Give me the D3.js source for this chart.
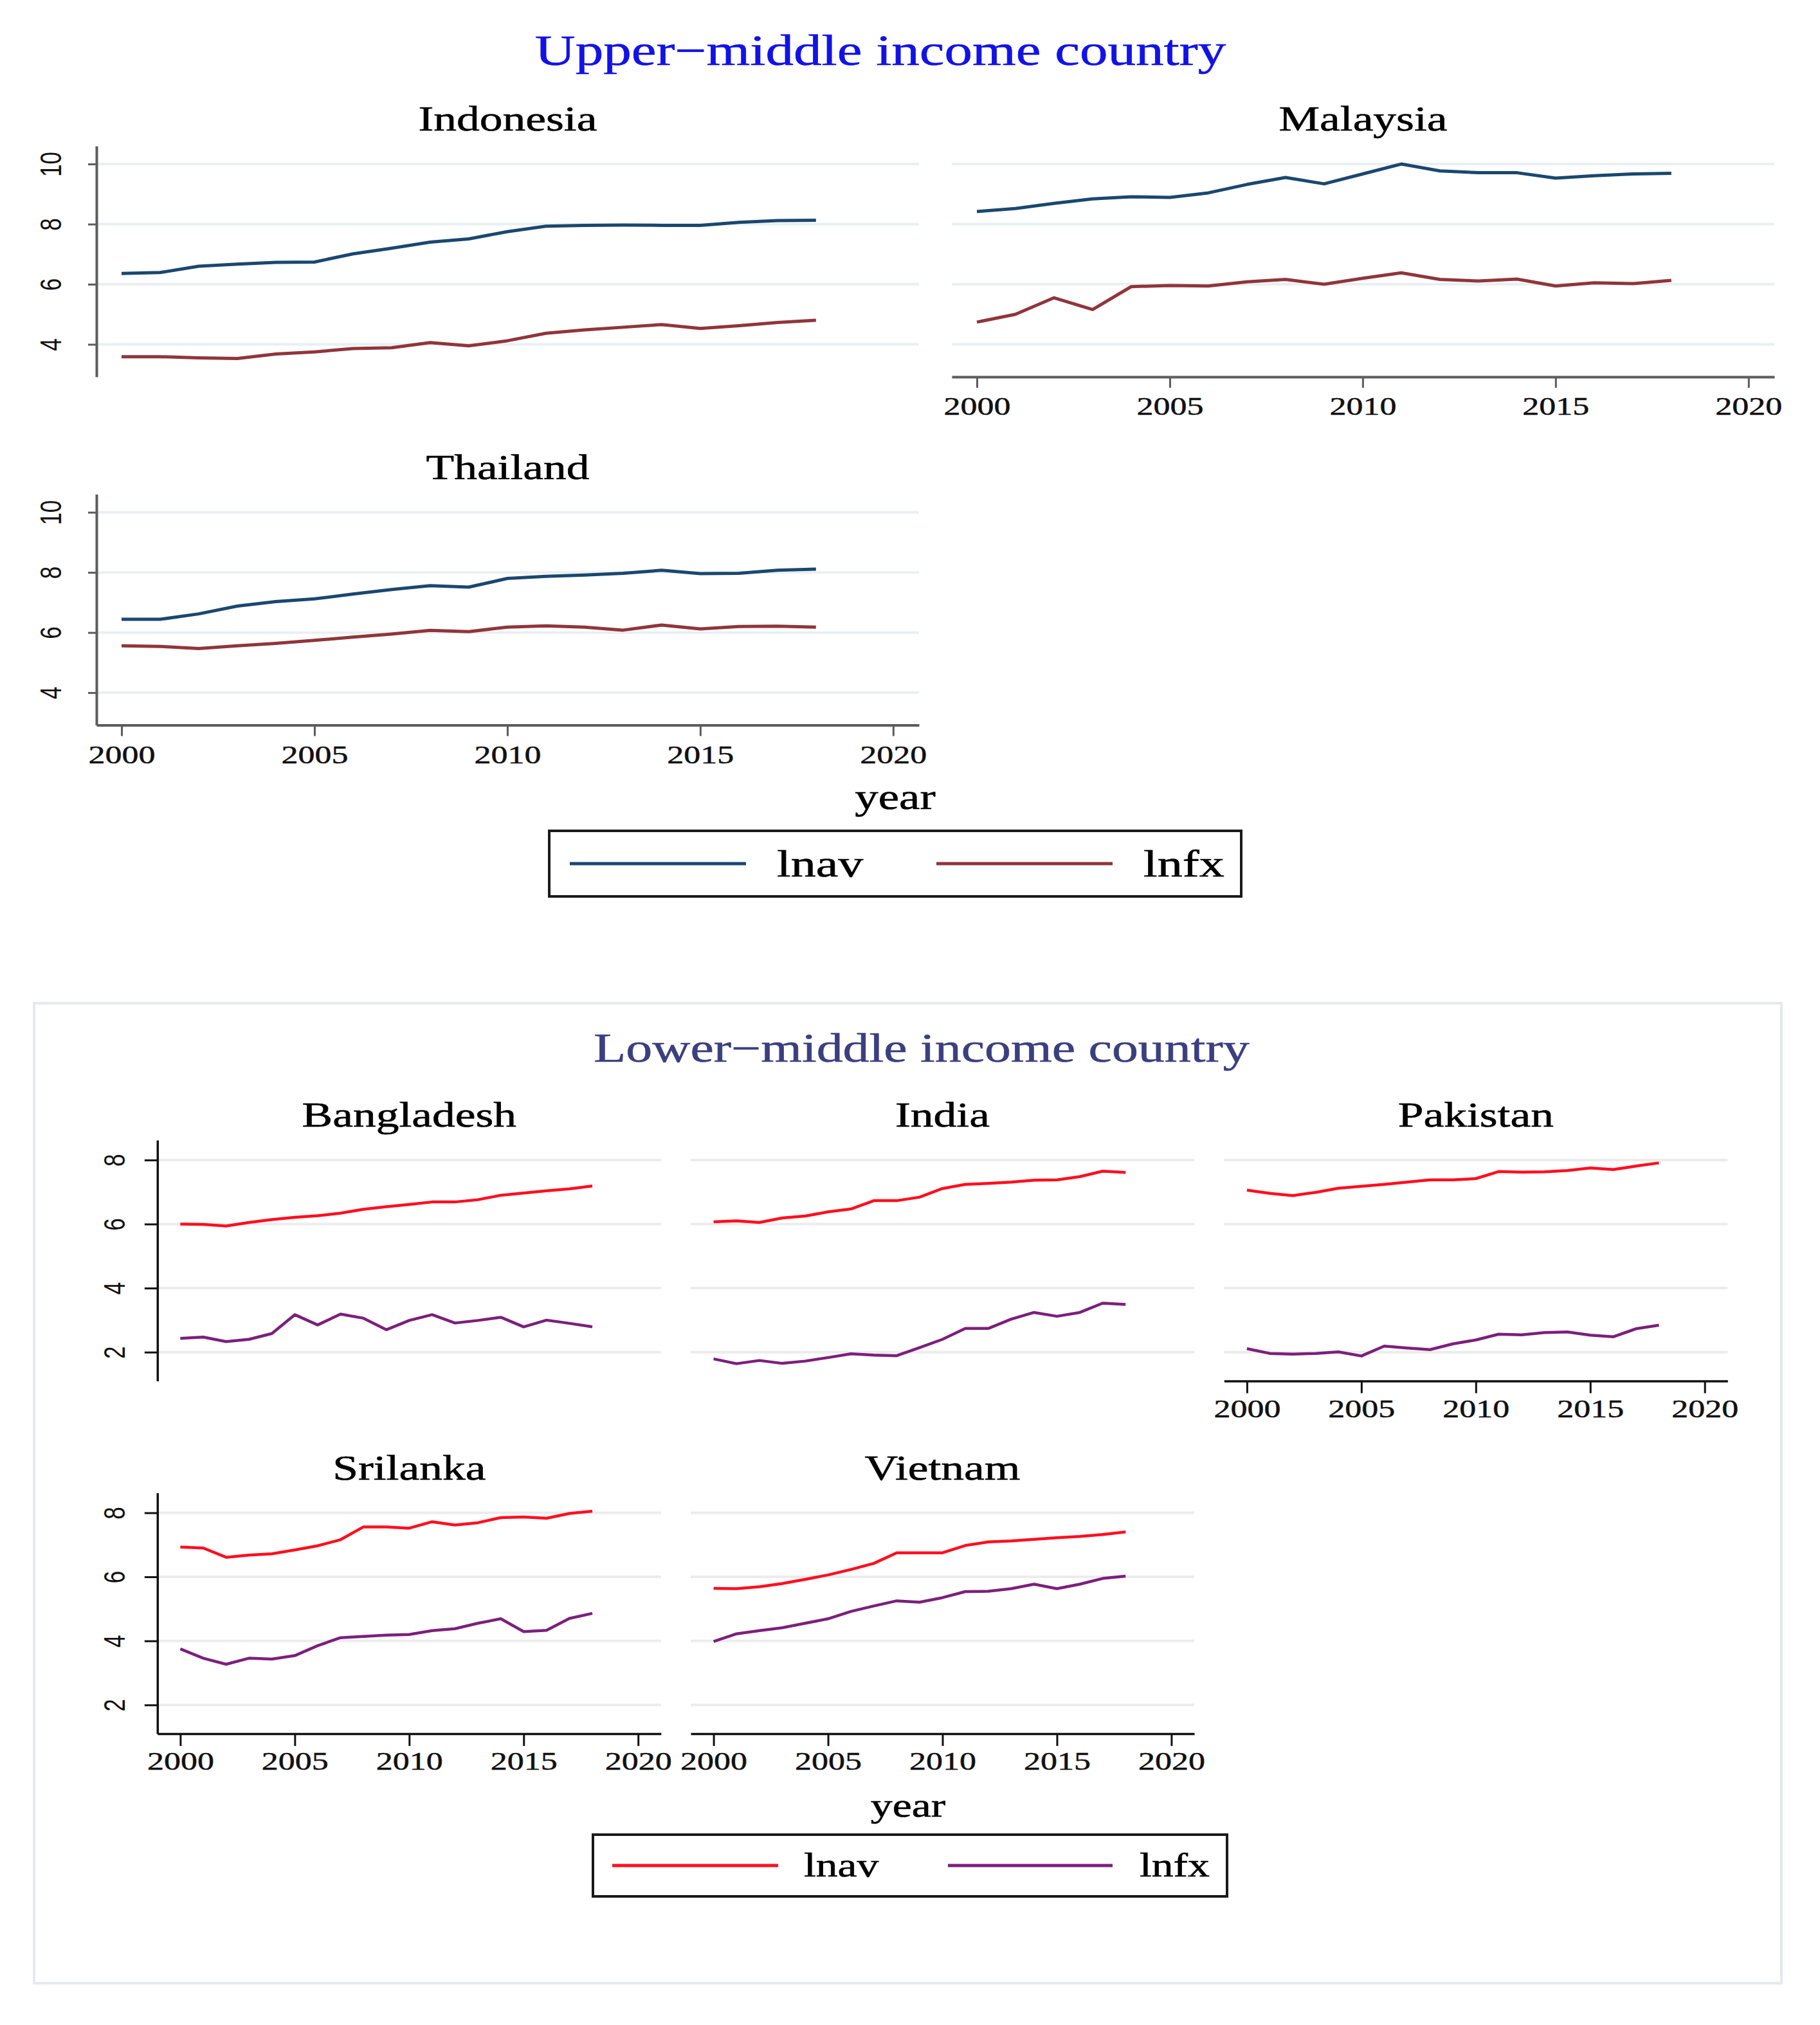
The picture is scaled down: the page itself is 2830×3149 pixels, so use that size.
<!DOCTYPE html>
<html>
<head>
<meta charset="utf-8">
<script src="https://cdn.jsdelivr.net/npm/d3@7"></script>
<style>
body { margin: 0; background: #fff; }
</style>
</head>
<body>
<svg id="chart"></svg>
<script>
let years = [2000, 2001, 2002, 2003, 2004, 2005, 2006, 2007, 2008, 2009,
             2010, 2011, 2012, 2013, 2014, 2015, 2016, 2017, 2018];
let xTicks = [2000, 2005, 2010, 2015, 2020];
let upperYTicks = [4, 6, 8, 10];
let lowerYTicks = [2, 4, 6, 8];
let seriesNames = ["lnav", "lnfx"];

// upper-middle income
let indonesiaLnav = [6.36, 6.39, 6.60, 6.67, 6.73, 6.74, 7.01, 7.20, 7.40, 7.51, 7.75, 7.93, 7.96, 7.97, 7.96, 7.96, 8.06, 8.12, 8.13];
let indonesiaLnfx = [3.59, 3.59, 3.55, 3.53, 3.68, 3.75, 3.86, 3.89, 4.06, 3.95, 4.12, 4.37, 4.48, 4.57, 4.66, 4.53, 4.62, 4.73, 4.80];
let malaysiaLnav = [8.42, 8.52, 8.69, 8.84, 8.91, 8.89, 9.04, 9.32, 9.55, 9.34, 9.67, 10.0, 9.77, 9.71, 9.71, 9.53, 9.61, 9.67, 9.69];
let malaysiaLnfx = [4.74, 5.00, 5.55, 5.16, 5.92, 5.96, 5.94, 6.08, 6.16, 6.00, 6.20, 6.38, 6.16, 6.11, 6.17, 5.94, 6.05, 6.02, 6.13];
let thailandLnav = [6.44, 6.44, 6.62, 6.88, 7.03, 7.12, 7.28, 7.43, 7.56, 7.51, 7.80, 7.87, 7.91, 7.97, 8.07, 7.96, 7.97, 8.07, 8.11];
let thailandLnfx = [5.56, 5.54, 5.47, 5.56, 5.64, 5.74, 5.85, 5.95, 6.07, 6.03, 6.18, 6.22, 6.18, 6.08, 6.25, 6.12, 6.20, 6.21, 6.18];

// lower-middle income
let bangladeshLnav = [6.00, 5.99, 5.94, 6.05, 6.14, 6.21, 6.26, 6.34, 6.46, 6.54, 6.61, 6.69, 6.69, 6.76, 6.90, 6.97, 7.04, 7.10, 7.19];
let bangladeshLnfx = [2.43, 2.47, 2.33, 2.40, 2.58, 3.17, 2.85, 3.19, 3.06, 2.70, 2.99, 3.17, 2.91, 2.99, 3.09, 2.79, 3.00, 2.90, 2.79];
let indiaLnav = [6.07, 6.10, 6.05, 6.19, 6.25, 6.38, 6.47, 6.73, 6.73, 6.84, 7.11, 7.24, 7.27, 7.31, 7.37, 7.38, 7.48, 7.65, 7.61];
let indiaLnfx = [1.79, 1.64, 1.74, 1.65, 1.72, 1.83, 1.95, 1.91, 1.89, 2.14, 2.40, 2.74, 2.74, 3.03, 3.24, 3.12, 3.24, 3.53, 3.49];
let pakistanLnav = [7.06, 6.96, 6.89, 6.99, 7.12, 7.18, 7.24, 7.31, 7.38, 7.38, 7.42, 7.64, 7.62, 7.63, 7.67, 7.75, 7.70, 7.81, 7.91];
let pakistanLnfx = [2.11, 1.96, 1.94, 1.96, 2.01, 1.88, 2.19, 2.13, 2.08, 2.26, 2.38, 2.56, 2.54, 2.61, 2.63, 2.53, 2.48, 2.73, 2.84];
let srilankaLnav = [6.93, 6.90, 6.61, 6.68, 6.72, 6.84, 6.97, 7.16, 7.56, 7.56, 7.52, 7.72, 7.62, 7.69, 7.85, 7.87, 7.83, 7.98, 8.05];
let srilankaLnfx = [3.75, 3.46, 3.27, 3.46, 3.43, 3.54, 3.85, 4.10, 4.14, 4.18, 4.20, 4.32, 4.38, 4.55, 4.69, 4.29, 4.33, 4.70, 4.86];
let vietnamLnav = [5.64, 5.63, 5.69, 5.79, 5.92, 6.06, 6.23, 6.42, 6.75, 6.75, 6.75, 6.98, 7.09, 7.12, 7.17, 7.22, 7.26, 7.32, 7.40];
let vietnamLnfx = [3.98, 4.22, 4.32, 4.41, 4.55, 4.69, 4.92, 5.09, 5.25, 5.21, 5.35, 5.54, 5.55, 5.63, 5.77, 5.63, 5.77, 5.95, 6.02];

// the picture is stretched sideways, so text is too
const SX = 1.3;
const serif = "'Liberation Serif', 'Times New Roman', serif";
const sans = "'Liberation Sans', Arial, sans-serif";

let svg = d3.select("#chart")
    .attr("width", 2830)
    .attr("height", 3149);

let upperGroup = {
    xDomain: [1999.35, 2020.67], yDomain: [2.92, 10.6],
    width: 1279, height: 359, yTicks: upperYTicks,
    colors: ["#1a476f", "#90353b"], axisColor: "#5c5c5c", gridColor: "#eaf0f2",
    titleSize: 55, titleGap: 24, lineWidth: 5, axisWidth: 4,
    yTickLen: 13, xTickLen: 17, yLabelOff: 71, xLabelOff: 59
};
let lowerGroup = {
    xDomain: [1999, 2021], yDomain: [1.1, 8.62],
    width: 783, height: 374.5, yTicks: lowerYTicks,
    colors: ["#ff0f1f", "#7c1f7c"], axisColor: "#111", gridColor: "#ececec",
    titleSize: 55, titleGap: 21, lineWidth: 4.5, axisWidth: 3.5,
    yTickLen: 20, xTickLen: 19, yLabelOff: 66, xLabelOff: 56
};

let upperPanels = [
    {name: "Indonesia", left: 150, top: 227, yAxis: true, xAxis: false, lnav: indonesiaLnav, lnfx: indonesiaLnfx},
    {name: "Malaysia", left: 1480, top: 227, yAxis: false, xAxis: true, lnav: malaysiaLnav, lnfx: malaysiaLnfx},
    {name: "Thailand", left: 150, top: 768.6, yAxis: true, xAxis: true, lnav: thailandLnav, lnfx: thailandLnfx}
];
let lowerPanels = [
    {name: "Bangladesh", left: 244.8, top: 1773, yAxis: true, xAxis: false, lnav: bangladeshLnav, lnfx: bangladeshLnfx},
    {name: "India", left: 1074, top: 1773, yAxis: false, xAxis: false, lnav: indiaLnav, lnfx: indiaLnfx},
    {name: "Pakistan", left: 1903.3, top: 1773, yAxis: false, xAxis: true, lnav: pakistanLnav, lnfx: pakistanLnfx},
    {name: "Srilanka", left: 244.8, top: 2321.6, yAxis: true, xAxis: true, lnav: srilankaLnav, lnfx: srilankaLnfx},
    {name: "Vietnam", left: 1074, top: 2321.6, yAxis: false, xAxis: true, lnav: vietnamLnav, lnfx: vietnamLnfx}
];


function stretchedText(parent, x, y, str, size, color, anchor) {
    return parent.append("text")
        .attr("transform", "translate(" + x + "," + y + ") scale(" + SX + ",1)")
        .attr("text-anchor", anchor || "middle")
        .style("font-family", serif)
        .style("font-size", size + "px")
        .style("fill", color || "#000")
        .style("stroke", color || "#000")
        .style("stroke-width", 0.6)
        .text(str);
}

function drawPanel(grp, p) {
    let x = d3.scaleLinear()
        .domain(grp.xDomain)
        .range([p.left, p.left + grp.width]);
    let y = d3.scaleLinear()
        .domain(grp.yDomain)
        .range([p.top + grp.height, p.top]);
    let g = svg.append("g");

    // gridlines
    g.append("g").selectAll("line")
        .data(grp.yTicks)
        .enter()
        .append("line")
        .attr("x1", x.range()[0])
        .attr("x2", x.range()[1])
        .attr("y1", d => y(d))
        .attr("y2", d => y(d))
        .style("stroke", grp.gridColor)
        .style("stroke-width", 4);

    stretchedText(g, (x.range()[0] + x.range()[1]) / 2, p.top - grp.titleGap, p.name, grp.titleSize);

    let line = d3.line()
        .x((d, i) => x(years[i]))
        .y(d => y(d));
    [p.lnav, p.lnfx].forEach(function (vals, k) {
        g.append("path")
            .datum(vals)
            .attr("d", line)
            .style("fill", "none")
            .style("stroke", grp.colors[k])
            .style("stroke-width", grp.lineWidth)
            .style("stroke-linejoin", "round");
    });

    if (p.yAxis) {
        let ay = g.append("g")
            .attr("transform", "translate(" + p.left + ",0)")
            .call(d3.axisLeft(y).tickValues(grp.yTicks).tickSize(grp.yTickLen).tickSizeOuter(0));
        ay.select(".domain").style("stroke", grp.axisColor).style("stroke-width", grp.axisWidth);
        ay.selectAll(".tick line").style("stroke", grp.axisColor).style("stroke-width", 3);
        ay.selectAll(".tick text")
            .attr("x", null).attr("dy", null)
            .attr("transform", "translate(" + (-grp.yLabelOff) + ",0) scale(" + SX + ",1) rotate(-90)")
            .attr("text-anchor", "middle")
            .attr("dominant-baseline", "central")
            .style("font-family", sans)
            .style("font-size", "35px")
            .style("fill", "#111");
    }
    if (p.xAxis) {
        let ax = g.append("g")
            .attr("transform", "translate(0," + (p.top + grp.height) + ")")
            .call(d3.axisBottom(x).tickValues(xTicks).tickSize(grp.xTickLen).tickSizeOuter(0).tickFormat(d3.format("d")));
        ax.select(".domain").style("stroke", grp.axisColor).style("stroke-width", grp.axisWidth);
        ax.selectAll(".tick line").style("stroke", grp.axisColor).style("stroke-width", 3);
        ax.selectAll(".tick text")
            .attr("y", null).attr("dy", null)
            .attr("transform", "translate(0," + grp.xLabelOff + ") scale(" + SX + ",1)")
            .attr("text-anchor", "middle")
            .style("font-family", serif)
            .style("font-size", "40px")
            .style("fill", "#111")
            .style("stroke", "#111")
            .style("stroke-width", 0.5);
    }
}

function drawLegend(box, colors, size) {
    let g = svg.append("g");
    g.append("rect")
        .attr("x", box.x).attr("y", box.y)
        .attr("width", box.w).attr("height", box.h)
        .style("fill", "#fff")
        .style("stroke", "#1a1a1a")
        .style("stroke-width", 4);
    seriesNames.forEach(function (name, k) {
        g.append("line")
            .attr("x1", box.lines[k][0]).attr("x2", box.lines[k][1])
            .attr("y1", box.y + box.h / 2).attr("y2", box.y + box.h / 2)
            .style("stroke", colors[k])
            .style("stroke-width", 5);
        stretchedText(g, box.labels[k], box.y + box.h / 2 + size * 0.33, name, size, "#000", "start");
    });
}

// upper section
stretchedText(svg, 1369, 101, "Upper\u2212middle income country", 67, "#1212e6");
upperPanels.forEach(p => drawPanel(upperGroup, p));
stretchedText(svg, 1392, 1258, "year", 56);
drawLegend({x: 854, y: 1292, w: 1076, h: 102, lines: [[886, 1160], [1456, 1730]], labels: [1208, 1778]},
    upperGroup.colors, 60);

// lower section, inside its light frame
svg.append("rect")
    .attr("x", 53).attr("y", 1560)
    .attr("width", 2717).attr("height", 1524)
    .style("fill", "#fff")
    .style("stroke", "#e4eaee")
    .style("stroke-width", 4);
stretchedText(svg, 1433, 1651, "Lower\u2212middle income country", 63, "#3b3f7f");
lowerPanels.forEach(p => drawPanel(lowerGroup, p));
stretchedText(svg, 1412, 2825, "year", 52);
drawLegend({x: 922, y: 2853, w: 986, h: 96, lines: [[952, 1210], [1474, 1730]], labels: [1250, 1772]},
    lowerGroup.colors, 52);
</script>
</body>
</html>
